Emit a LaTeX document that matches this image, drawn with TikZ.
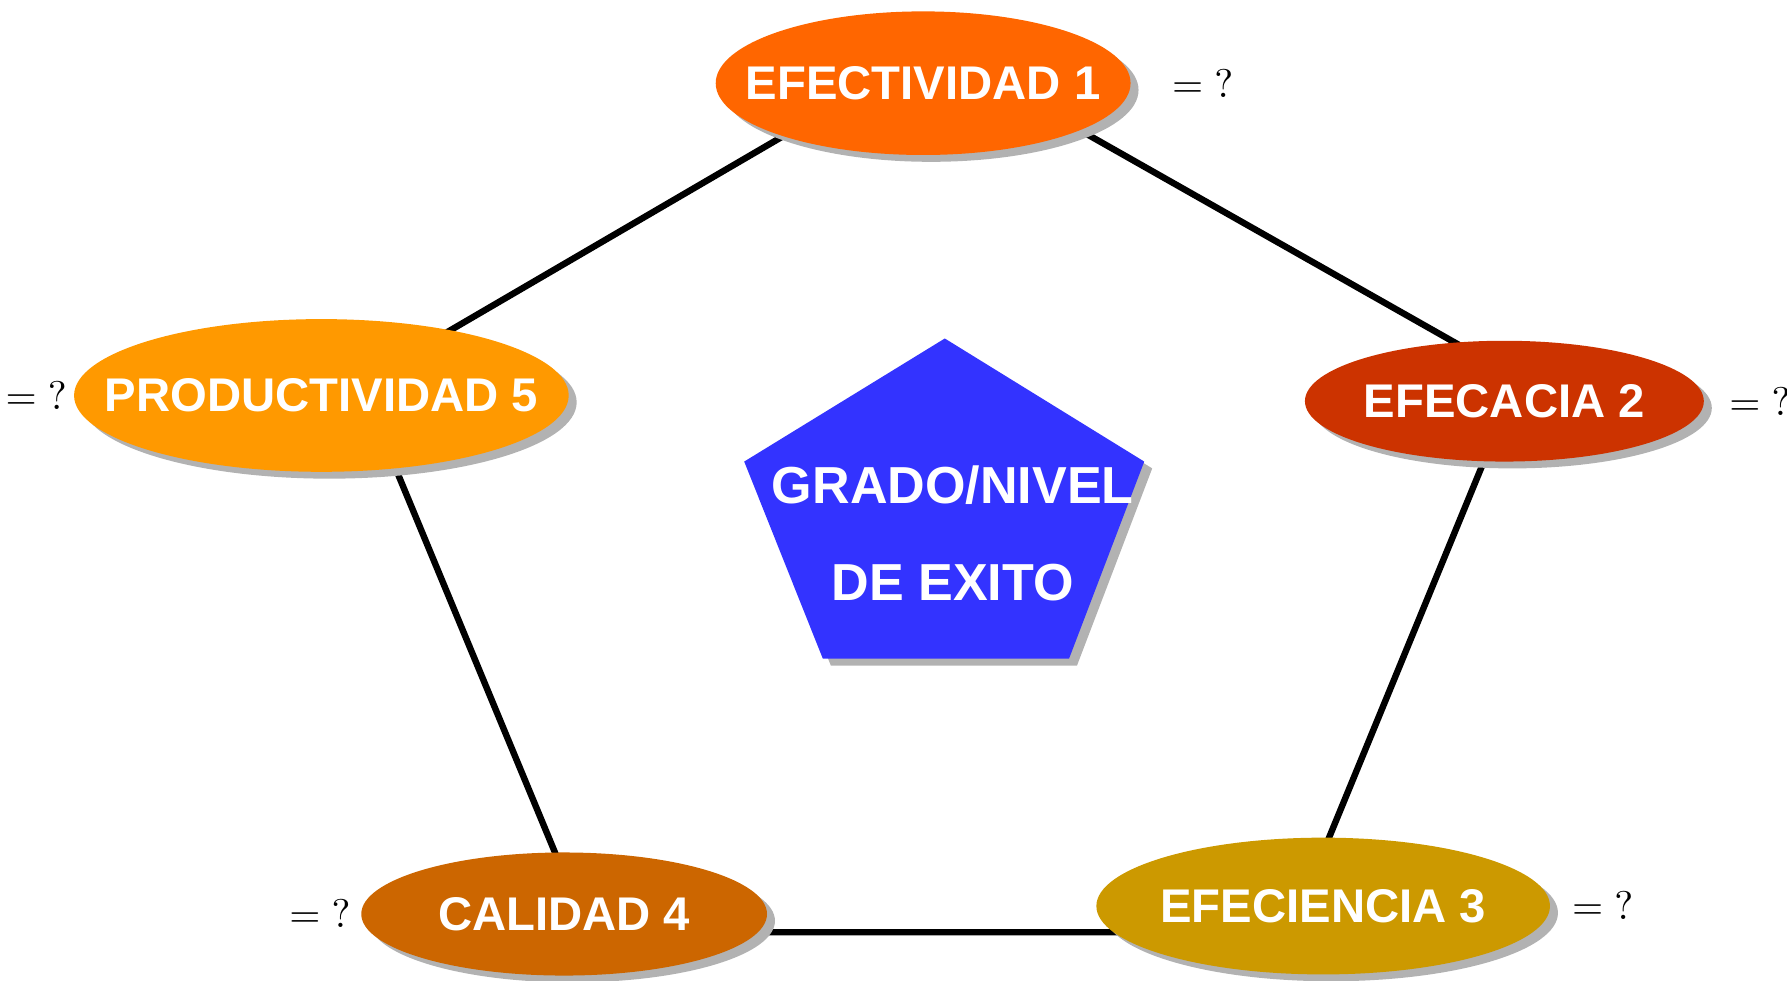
\documentclass[tikz,border=0pt]{standalone}
\usepackage{fontspec}
\newfontfamily\arialf{Liberation Sans}
\usetikzlibrary{positioning,shapes.geometric,shadows}
\definecolor{naranja}{HTML}{FF6600}
\definecolor{rojizo}{HTML}{CC3300}
\definecolor{dorado}{HTML}{CC9900}
\definecolor{marron}{HTML}{CC6600}
\definecolor{ambar}{HTML}{FF9900}
\definecolor{azul}{HTML}{3333FF}
\tikzset{
  sombra/.style={drop shadow={shadow xshift=.07cm, shadow yshift=-.06cm, fill=black!30, opacity=1}},
  elipse/.style={ellipse, inner xsep=-0.6cm, inner ysep=0pt, sombra, text=white, font=\arialf\bfseries\fontsize{11.8}{14}\selectfont},
  igual/.style={inner sep=0pt, font=\fontsize{10}{12}\selectfont}
}
\begin{document}
\begin{tikzpicture}[line join=round, line cap=round]
                \useasboundingbox (0,0) rectangle (15.68,8.60);
                % vertices of the outer pentagon
                \coordinate (T) at (8.20,8.18);
                \coordinate (R) at (13.32,5.28);
                \coordinate (BR) at (11.32,0.42);
                \coordinate (BL) at (5.16,0.42);
                \coordinate (L) at (3.16,5.24);
                \draw[line width=1.6pt] (T)--(R)--(BR)--(BL)--(L)--cycle;
                % centre
                \fill[azul, sombra] (8.29,5.63)--(10.04,4.55)--(9.38,2.82)--(7.22,2.82)--(6.53,4.55)--cycle;
                \node[text=white, align=center, font=\arialf\bfseries\fontsize{13}{24.2}\selectfont] (exito) at (8.36,3.92) {GRADO/NIVEL\\DE EXITO};
                % ellipses
                \node[elipse, fill=naranja, minimum width=3.64cm, minimum height=1.26cm] (e1) at (8.10,7.87) {EFECTIVIDAD 1};
                \node[elipse, fill=rojizo, minimum width=3.50cm, minimum height=1.06cm] (e2) at (13.20,5.08) {EFECACIA 2};
                \node[elipse, fill=dorado, minimum width=3.98cm, minimum height=1.20cm] (e3) at (11.61,0.65) {EFECIENCIA 3};
                \node[elipse, fill=marron, minimum width=3.56cm, minimum height=1.08cm] (e4) at (4.95,0.58) {CALIDAD 4};
                \node[elipse, fill=ambar, minimum width=4.34cm, minimum height=1.34cm] (e5) at (2.82,5.13) {PRODUCTIVIDAD 5};
                \node[igual, right=0.35cm of e1] (q1) {$=\mathord{?}$};
                \node[igual, right=0.21cm of e2] (q2) {$=\mathord{?}$};
                \node[igual, right=0.18cm of e3] (q3) {$=\mathord{?}$};
                \node[igual, left=0.08cm of e4] (q4) {$=\mathord{?}$};
                \node[igual, left=0.05cm of e5] (q5) {$=\mathord{?}$};
            \end{tikzpicture}
\end{document}
